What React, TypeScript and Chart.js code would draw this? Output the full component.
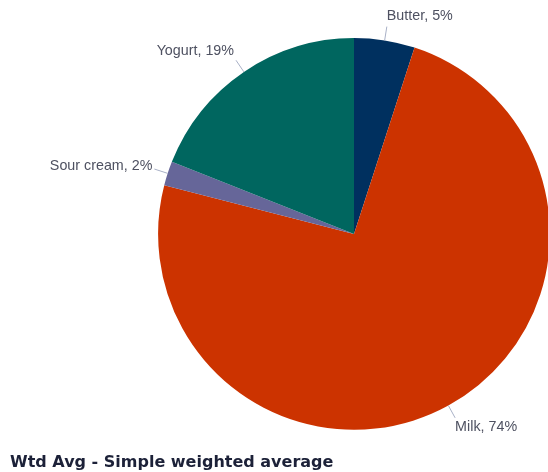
import React, { useEffect, useRef } from "react";
import { Chart, registerables } from "chart.js";

Chart.register(...registerables);

const categories = ["Butter", "Milk", "Sour cream", "Yogurt"];
const shares = [5, 74, 2, 19];
const sliceColors = ["#00305f", "#cc3300", "#666699", "#00665f"];
const titleText = "Wtd Avg - Simple weighted average";

// Outside labels "Name, NN%" with short leader lines from each slice's rim
const outsideLabels = {
  id: "outsideLabels",
  afterDatasetsDraw(chart: any) {
    const ctx = chart.ctx;
    const meta = chart.getDatasetMeta(0);
    const data = chart.data.datasets[0].data as number[];
    const labels = chart.data.labels as string[];
    ctx.save();
    ctx.font = '14.3px "Liberation Sans", Arial, sans-serif';
    ctx.textBaseline = "middle";
    meta.data.forEach((arc: any, i: number) => {
      const { x, y, startAngle, endAngle, outerRadius } = arc.getProps(
        ["x", "y", "startAngle", "endAngle", "outerRadius"],
        true
      );
      const mid = (startAngle + endAngle) / 2;
      const c = Math.cos(mid);
      const s = Math.sin(mid);
      const x0 = x + outerRadius * c;
      const y0 = y + outerRadius * s;
      const x1 = x + (outerRadius + 14) * c;
      const y1 = y + (outerRadius + 14) * s;
      ctx.strokeStyle = "#a8b0c6";
      ctx.lineWidth = 1;
      ctx.beginPath();
      ctx.moveTo(x0, y0);
      ctx.lineTo(x1, y1);
      ctx.stroke();
      ctx.fillStyle = "#4e5161";
      ctx.textAlign = c >= 0 ? "left" : "right";
      ctx.fillText(`${labels[i]}, ${data[i]}%`, x1 - (c < 0 ? 2 : 0), y1 + 11 * s);
    });
    ctx.restore();
  },
};

export default function App() {
  const ref = useRef<HTMLCanvasElement>(null);

  useEffect(() => {
    if (!ref.current) return;
    const chart = new Chart(ref.current, {
      type: "pie",
      data: {
        labels: categories,
        datasets: [
          {
            data: shares,
            backgroundColor: sliceColors,
            borderWidth: 0,
          },
        ],
      },
      options: {
        responsive: false,
        animation: false,
        layout: { padding: { left: 10, right: 12, top: 38, bottom: 0 } },
        plugins: {
          legend: { display: false },
          tooltip: { enabled: false },
          title: {
            display: true,
            text: titleText,
            position: "bottom",
            align: "start",
            color: "#1c2138",
            font: { family: 'Verdana, "DejaVu Sans", sans-serif', size: 16, weight: "bold" },
            padding: { top: 23, bottom: 0 },
          },
        },
      },
      plugins: [outsideLabels],
    });
    return () => chart.destroy();
  }, []);

  return (
    <div
      style={{
        position: "fixed",
        left: 0,
        top: 0,
        width: 548,
        height: 472,
        overflow: "hidden",
        background: "#ffffff",
      }}
    >
      <canvas ref={ref} width={710} height={472} style={{ display: "block" }} />
    </div>
  );
}
